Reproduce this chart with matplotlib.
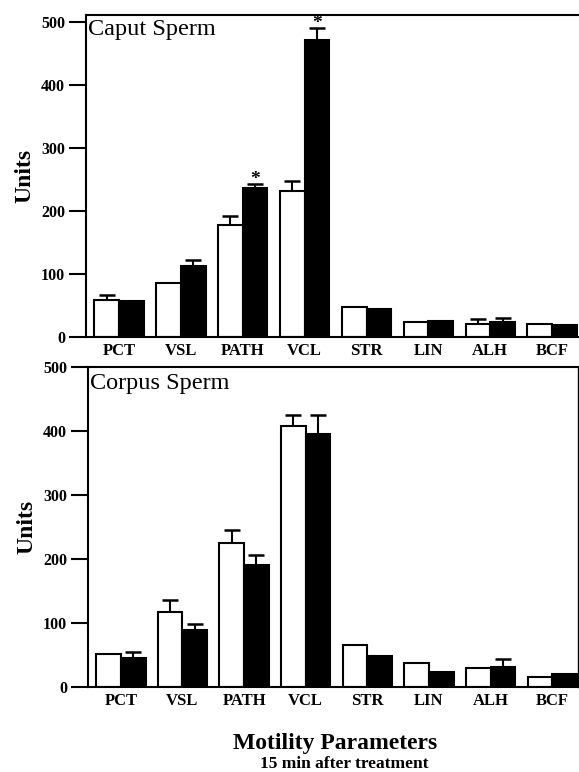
import numpy as np
import matplotlib
matplotlib.use("Agg")
import matplotlib.pyplot as plt

plt.rcParams['font.family'] = ['Liberation Serif', 'DejaVu Serif']

# motility parameters, values
params = ["PCT", "VSL", "PATH", "VCL", "STR", "LIN", "ALH", "BCF"]

caput_ctrl = [59, 85, 178, 232, 48, 24, 20, 21]
caput_ctrl_err = [8, 0, 14, 15, 0, 0, 8, 0]
caput_trt = [57, 113, 236, 471, 45, 25, 23, 18.5]
caput_trt_err = [0, 9, 7, 19, 0, 0, 7, 0]
caput_sig = [False, False, True, True, False, False, False, False]

corpus_ctrl = [52, 117, 225, 408, 65, 38, 29, 15]
corpus_ctrl_err = [0, 19, 20, 17, 0, 0, 0, 0]
corpus_trt = [46, 89, 190, 395, 48, 23, 31, 21]
corpus_trt_err = [9, 10, 17, 30, 0, 0, 12, 0]
corpus_sig = [False] * 8

yticks = [0, 100, 200, 300, 400, 500]

x = np.arange(len(params))
w = 0.40


def panel(ax, ctrl, ctrl_err, trt, trt_err, sig, title, ymax, title_drop):
    ax.bar(x - w/2, ctrl, w, color='white', edgecolor='black', linewidth=1.5, zorder=2)
    ax.bar(x + w/2, trt, w, color='black', edgecolor='black', linewidth=1.5, zorder=2)
    for xs, vals, errs in [(x - w/2, ctrl, ctrl_err), (x + w/2, trt, trt_err)]:
        for xi, v, e in zip(xs, vals, errs):
            if e > 0:
                ax.errorbar(xi, v, yerr=[[0], [e]], fmt='none', ecolor='black',
                            elinewidth=1.5, capsize=6, capthick=1.8, zorder=1)
    for xi, v, e, s in zip(x + w/2, trt, trt_err, sig):
        if s:
            ax.annotate('*', (xi, v + e), xytext=(0, 0), textcoords='offset points',
                        ha='center', va='baseline', fontsize=14, fontweight='bold')
    ax.set_xlim(-0.533, 7.415)
    ax.set_ylim(0, ymax)
    ax.set_yticks(yticks)
    ax.set_yticklabels([str(t) for t in yticks], fontsize=11.5, fontweight='bold')
    ax.set_xticks(x)
    ax.set_xticklabels(params, fontsize=12, fontweight='bold')
    ax.tick_params(axis='x', length=0, pad=4)
    ax.tick_params(axis='y', length=12, width=1.5, pad=3)
    ax.set_ylabel('Units', fontsize=17, fontweight='bold', labelpad=4)
    ax.annotate(title, (0, 1), xycoords='axes fraction', xytext=(1.5, -title_drop),
                textcoords='offset points', ha='left', va='baseline', fontsize=17.5)
    for sp in ax.spines.values():
        sp.set_linewidth(1.5)


fig = plt.figure(figsize=(5.79, 7.72), dpi=100)

ax1 = fig.add_axes([0.1485, 0.5635, 0.8495, 0.4171])
panel(ax1, caput_ctrl, caput_ctrl_err, caput_trt, caput_trt_err, caput_sig, 'Caput Sperm', 511, 14.4)
ax1.spines['right'].set_visible(False)

ax2 = fig.add_axes([0.152, 0.1101, 0.846, 0.4145])
panel(ax2, corpus_ctrl, corpus_ctrl_err, corpus_trt, corpus_trt_err, corpus_sig, 'Corpus Sperm', 500, 15.8)
ax2.spines['right'].set_linewidth(1.0)

fig.text(0.5795, 0.0295, 'Motility Parameters', ha='center', va='baseline', fontsize=17, fontweight='bold')
fig.text(0.594, 0.0052, '15 min after treatment', ha='center', va='baseline', fontsize=12.5, fontweight='bold')

fig.savefig('out.png', dpi=100)
